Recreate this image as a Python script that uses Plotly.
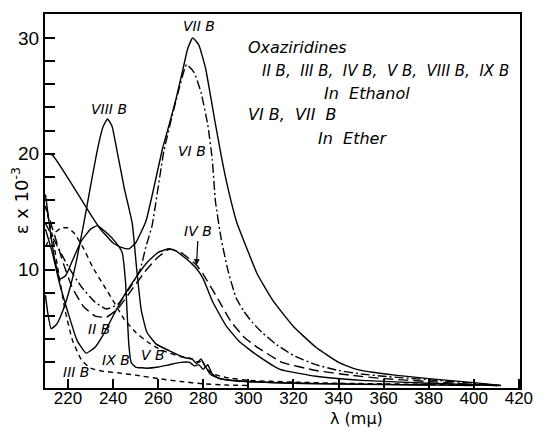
import plotly.graph_objects as go

# ---------------- data (wavelength in m\u03bc, epsilon x 10^-3) ----------------
wl_VIIB = [210, 213, 220, 228.3, 234, 240, 244, 247, 250, 254.6, 258, 262, 265, 268, 271, 273, 275.3, 278, 281, 285, 288, 291, 295, 300, 304, 311, 320, 330, 340, 348, 355, 365, 380, 400, 412]
eps_VIIB = [20.0, 19.9, 17.9, 15.3, 13.6, 12.3, 11.9, 11.8, 12.3, 14.2, 17.0, 20.5, 22.6, 24.8, 27.3, 29.0, 30.0, 29.4, 27.4, 23.0, 19.8, 17.0, 14.0, 11.5, 9.6, 7.3, 5.1, 3.3, 2.0, 1.4, 1.15, 0.9, 0.6, 0.25, 0.0]

wl_VIB = [210, 214, 220, 226, 232, 237, 242, 248, 252, 254.6, 257.3, 262.5, 267.8, 272.6, 276, 279, 282, 284, 285.4, 288, 291, 294.5, 298, 302, 306, 312, 320, 330, 340, 350, 360, 380, 400, 412]
eps_VIB = [14.0, 12.5, 10.3, 8.5, 7.2, 6.6, 7.0, 8.6, 10.0, 12.0, 13.8, 20.2, 24.5, 27.7, 27.0, 25.3, 22.5, 19.5, 15.9, 12.6, 9.9, 7.6, 6.4, 5.4, 4.6, 3.6, 2.6, 1.8, 1.3, 1.0, 0.8, 0.5, 0.2, 0.0]

wl_IVB = [210, 214, 218, 222, 227, 232, 237, 242, 248, 254, 260, 265, 270, 274, 277, 280, 287, 292, 298, 304, 315, 330, 345, 360, 380, 400, 412]
eps_IVB = [15.5, 13.0, 10.5, 8.4, 6.8, 6.0, 5.9, 6.6, 8.2, 9.8, 11.1, 11.75, 11.5, 10.9, 10.4, 9.6, 7.3, 5.6, 4.2, 3.3, 2.0, 1.3, 0.9, 0.6, 0.35, 0.1, 0.0]

wl_IIB = [210, 213, 216, 220, 224, 228, 232, 236, 240, 245, 250, 255, 260, 265, 268, 272, 275, 277, 280, 284, 290, 296, 304, 314, 330, 350, 380, 410]
eps_IIB = [13.5, 11.5, 9.0, 6.3, 3.9, 2.8, 3.3, 4.5, 6.0, 7.8, 9.3, 10.6, 11.5, 11.8, 11.6, 11.0, 10.5, 10.1, 9.2, 7.3, 5.2, 3.8, 2.6, 1.4, 0.8, 0.45, 0.2, 0.0]

wl_VB = [210, 213, 217, 220, 223, 227, 231, 236, 241, 245, 250, 255, 260, 265, 270, 275, 278, 279.5, 281, 283, 286, 290, 300, 320, 340, 360, 380, 400, 412]
eps_VB = [12.0, 13.0, 13.6, 13.6, 13.1, 11.8, 10.2, 8.6, 7.0, 5.7, 4.6, 3.8, 3.2, 2.8, 2.5, 2.3, 2.0, 2.2, 1.6, 1.2, 0.9, 0.7, 0.45, 0.3, 0.2, 0.15, 0.1, 0.05, 0.0]

wl_IIIB = [210, 213, 216, 218.7, 222, 226, 230, 235, 242, 250, 260, 270, 280, 290, 300]
eps_IIIB = [15.5, 13.0, 9.5, 6.5, 3.9, 2.2, 1.5, 1.25, 1.1, 0.9, 0.6, 0.35, 0.15, 0.05, 0.0]

wl_VIIIB = [210, 211, 212.5, 215, 218, 221, 224, 227, 230, 233, 235.5, 237.5, 239.5, 242, 245, 248.5, 250.5, 252.5, 255, 259, 265, 272, 275, 277, 279, 281, 282, 284, 287, 295, 320, 360, 400]
eps_VIIIB = [7.8, 6.3, 4.9, 5.3, 6.6, 8.5, 11.0, 14.0, 17.2, 20.3, 22.3, 23.0, 22.4, 20.0, 17.0, 14.0, 10.0, 6.5, 4.6, 3.6, 3.0, 2.4, 2.3, 1.9, 2.3, 1.6, 1.8, 1.0, 0.6, 0.4, 0.2, 0.1, 0.0]

wl_IXB = [210, 212, 214, 216.5, 219, 222, 226, 230, 233, 237, 241, 244, 245.5, 246.3, 247, 248, 250, 255, 260, 265, 270, 274, 276, 278, 280, 281, 283, 286, 290, 300, 320, 350, 380]
eps_IXB = [16.5, 13.5, 11.0, 9.2, 9.5, 10.8, 12.5, 13.5, 13.8, 13.2, 12.4, 11.5, 9.0, 6.0, 3.5, 2.0, 1.6, 1.5, 1.6, 1.8, 2.0, 2.0, 1.7, 1.8, 1.4, 1.6, 1.0, 0.7, 0.5, 0.35, 0.2, 0.1, 0.05]

x_ticks = [220, 240, 260, 280, 300, 320, 340, 360, 380, 400, 420]
y_ticks = [10, 20, 30]
y_minor_ticks = [2, 4, 6, 8, 12, 14, 16, 18, 22, 24, 26, 28]

curves = [
    ("VII B", wl_VIIB, eps_VIIB, "solid"),
    ("VI B", wl_VIB, eps_VIB, "9px,3px,2px,3px"),
    ("IV B", wl_IVB, eps_IVB, "10px,5px"),
    ("II B", wl_IIB, eps_IIB, "solid"),
    ("V B", wl_VB, eps_VB, "5px,4px"),
    ("III B", wl_IIIB, eps_IIIB, "5px,4px"),
    ("VIII B", wl_VIIIB, eps_VIIIB, "solid"),
    ("IX B", wl_IXB, eps_IXB, "solid"),
]

fig = go.Figure()
for name, xs, ys, dash in curves:
    fig.add_trace(go.Scatter(
        x=xs, y=ys, mode="lines", name=name,
        line=dict(color="black", width=1.4, dash=dash, shape="spline", smoothing=0.4),
        showlegend=False, hoverinfo="skip"))

NB = "\u00a0"
lab_font = dict(family="DejaVu Sans", size=14, color="black")
labels = [
    (278, 31.0, "VII B"),
    (238.4, 23.9, "VIII B"),
    (274.8, 20.2, "VI B"),
    (233.6, 4.9, "II B"),
    (241.5, 2.2, "IX B"),
    (257.7, 2.6, "V B"),
    (223.5, 1.15, "III B"),
]
for x, y, t in labels:
    fig.add_annotation(x=x, y=y, text=f"<i>{t}</i>", showarrow=False, font=lab_font)

fig.add_annotation(x=277, y=10.4, ax=277.8, ay=13.3, axref="x", ayref="y",
                   text="<i>IV B</i>", showarrow=True, arrowhead=2, arrowsize=1,
                   arrowwidth=1.2, arrowcolor="black", standoff=0, font=lab_font)

big_font = dict(family="DejaVu Sans", size=16, color="black")
mid_font = dict(family="DejaVu Sans", size=15, color="black")
line2 = ("II" + NB + "B," + NB + NB + "III" + NB + "B," + NB + NB + "IV" + NB + "B," + NB + NB + "V" + NB + "B,"
         + NB + NB + "VIII" + NB + "B," + NB + NB + "IX" + NB + "B")
line4 = "VI" + NB + "B," + NB + NB + "VII" + NB + NB + "B"
fig.add_annotation(x=299, y=29.2, text="<i>Oxaziridines</i>", xanchor="left", showarrow=False, font=big_font)
fig.add_annotation(x=305, y=27.1, text=f"<i>{line2}</i>", xanchor="left", showarrow=False, font=mid_font)
fig.add_annotation(x=352.5, y=25.2, text=f"<i>In{NB}{NB}Ethanol</i>", showarrow=False, font=big_font)
fig.add_annotation(x=299, y=23.4, text=f"<i>{line4}</i>", xanchor="left", showarrow=False, font=big_font)
fig.add_annotation(x=346, y=21.3, text=f"<i>In{NB}{NB}Ether</i>", showarrow=False, font=big_font)

# axis titles
fig.add_annotation(xref="paper", yref="paper", x=-0.052, y=0.5, xanchor="center", yanchor="middle",
                   text="\u03b5 x 10<sup>-3</sup>", textangle=-90, showarrow=False,
                   font=dict(family="DejaVu Sans", size=18, color="black"))
fig.add_annotation(xref="paper", yref="paper", x=0.656, y=-0.082, xanchor="center", yanchor="middle",
                   text="\u03bb (m\u03bc)", showarrow=False,
                   font=dict(family="DejaVu Sans", size=16, color="black"))

fig.update_xaxes(range=[209.8, 420.5], tickvals=x_ticks, ticks="inside", ticklen=9, tickwidth=1.5,
                 tickcolor="black", showline=True, linewidth=2, linecolor="black", mirror=True,
                 showgrid=False, zeroline=False, ticklabelstandoff=-6,
                 tickfont=dict(family="Liberation Sans", size=17, color="black"))
fig.update_yaxes(range=[-0.21, 32.06], tickvals=y_ticks, ticks="inside",
                 ticklen=10, tickwidth=1.5, tickcolor="black", showline=True, linewidth=2,
                 linecolor="black", mirror=True, showgrid=False, zeroline=False,
                 minor=dict(tickvals=y_minor_ticks, ticks="inside", ticklen=10, tickwidth=1.5,
                            tickcolor="black", showgrid=False),
                 tickfont=dict(family="Liberation Sans", size=19, color="black"))
fig.update_layout(width=545, height=433, margin=dict(l=45, r=20, t=12, b=45),
                  plot_bgcolor="white", paper_bgcolor="white")

fig.write_html("out.html")
